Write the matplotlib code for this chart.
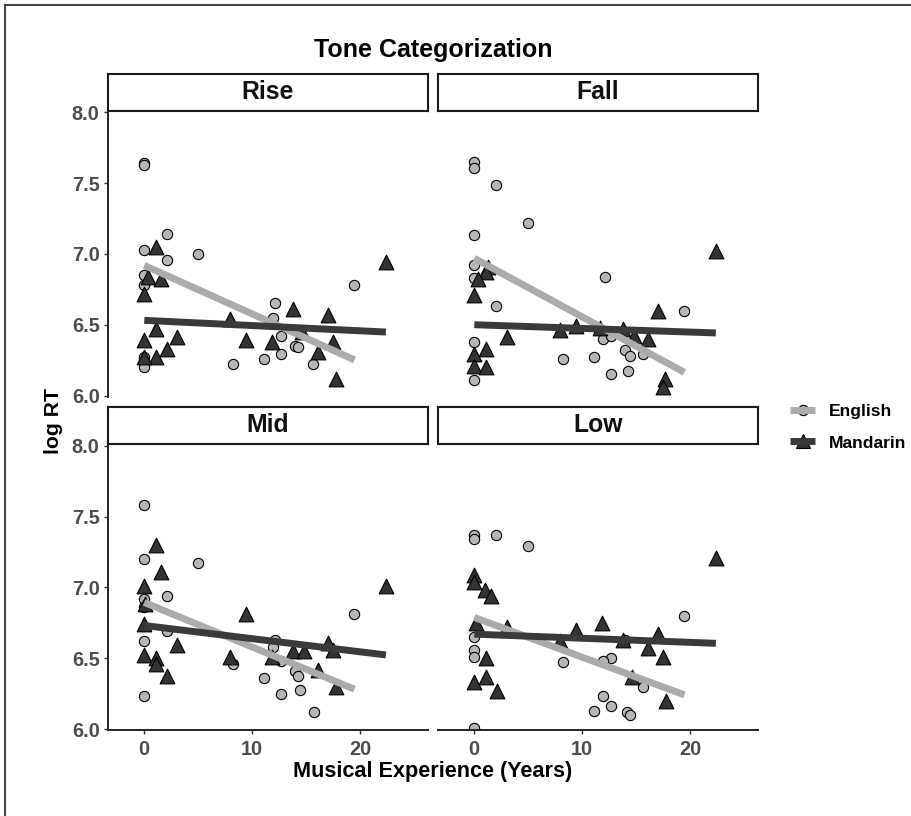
import numpy as np
import matplotlib
matplotlib.use("Agg")
import matplotlib.pyplot as plt
from matplotlib.lines import Line2D
from matplotlib.legend_handler import HandlerTuple

plt.rcParams['font.family'] = ['Liberation Sans', 'DejaVu Sans']

# ---------------- data ----------------
panels = ["Rise", "Fall", "Mid", "Low"]
groups = ["English", "Mandarin"]

rise_eng_x = [0, 0, 2.07, 0, 2.07, 5.0, 0, 0, 12.1, 11.96, 12.7, 13.96, 14.27, 12.7, 11.12, 8.25, 15.66, 19.46, 0, 0]
rise_eng_y = [7.645, 7.626, 7.14, 7.03, 6.96, 7.0, 6.85, 6.78, 6.65, 6.55, 6.42, 6.35, 6.34, 6.29, 6.26, 6.22, 6.22, 6.78, 6.27, 6.20]
rise_man_x = [1.05, 0.31, 1.54, 0, 1.05, 0, 3.0, 2.07, 1.05, 0, 7.94, 9.39, 11.86, 13.75, 14.6, 17.05, 17.5, 16.1, 17.76, 22.37]
rise_man_y = [7.05, 6.84, 6.82, 6.72, 6.47, 6.39, 6.41, 6.33, 6.27, 6.27, 6.54, 6.39, 6.38, 6.61, 6.45, 6.57, 6.38, 6.31, 6.12, 6.94]

fall_eng_x = [0, 0, 2.0, 5.0, 0, 0, 0, 12.1, 2.0, 19.46, 0, 11.96, 12.7, 13.96, 14.4, 15.66, 8.25, 11.12, 12.7, 14.2, 0]
fall_eng_y = [7.65, 7.61, 7.49, 7.22, 7.135, 6.92, 6.83, 6.84, 6.63, 6.60, 6.38, 6.40, 6.42, 6.32, 6.28, 6.29, 6.26, 6.27, 6.15, 6.17, 6.11]
fall_man_x = [1.24, 1.05, 0.31, 0, 3.0, 1.05, 0, 0, 1.05, 7.94, 9.39, 11.65, 13.75, 14.8, 16.1, 17.05, 17.67, 17.45, 22.37]
fall_man_y = [6.91, 6.87, 6.82, 6.71, 6.41, 6.33, 6.29, 6.21, 6.20, 6.46, 6.49, 6.48, 6.47, 6.42, 6.40, 6.595, 6.12, 6.06, 7.02]

mid_eng_x = [0, 0, 5.0, 2.07, 0, 0, 2.07, 0, 19.46, 12.1, 11.96, 12.7, 8.25, 13.96, 14.27, 11.12, 14.4, 12.7, 15.75, 0]
mid_eng_y = [7.58, 7.20, 7.17, 6.94, 6.92, 6.865, 6.69, 6.62, 6.81, 6.63, 6.58, 6.48, 6.46, 6.41, 6.375, 6.36, 6.275, 6.25, 6.12, 6.235]
mid_man_x = [1.05, 1.54, 0, 0.1, 0, 9.39, 3.0, 0, 1.05, 1.05, 2.07, 7.94, 11.86, 13.75, 14.8, 17.05, 17.5, 16.1, 17.76, 22.37]
mid_man_y = [7.30, 7.11, 7.01, 6.88, 6.74, 6.81, 6.59, 6.52, 6.50, 6.46, 6.375, 6.51, 6.51, 6.55, 6.55, 6.61, 6.56, 6.42, 6.30, 7.01]

low_eng_x = [0, 0, 2.0, 5.0, 0, 0, 0, 19.46, 8.25, 12.7, 11.96, 13.96, 15.66, 11.9, 12.67, 11.12, 14.1, 14.4, 0]
low_eng_y = [7.37, 7.34, 7.37, 7.295, 6.65, 6.555, 6.51, 6.795, 6.47, 6.505, 6.48, 6.63, 6.295, 6.23, 6.165, 6.13, 6.12, 6.10, 6.01]
low_man_x = [0, 0, 1.0, 1.54, 0.2, 3.0, 9.39, 11.86, 13.75, 17.05, 7.94, 16.1, 17.45, 1.05, 1.05, 0, 2.07, 14.6, 17.76, 22.37]
low_man_y = [7.09, 7.04, 6.98, 6.94, 6.75, 6.72, 6.70, 6.75, 6.63, 6.67, 6.62, 6.57, 6.51, 6.50, 6.365, 6.335, 6.27, 6.365, 6.20, 7.21]

# linear fit lines (intercept at 0 years, slope per year)
eng_intercepts = [6.919, 6.969, 6.894, 6.788]
eng_slopes = [-0.0343, -0.0414, -0.0315, -0.0281]
man_intercepts = [6.531, 6.500, 6.731, 6.670]
man_slopes = [-0.0037, -0.0026, -0.0093, -0.0029]

x_ticks = [0, 10, 20]
y_ticks = [6.0, 6.5, 7.0, 7.5, 8.0]

panel_data = [
    (rise_eng_x, rise_eng_y, rise_man_x, rise_man_y),
    (fall_eng_x, fall_eng_y, fall_man_x, fall_man_y),
    (mid_eng_x, mid_eng_y, mid_man_x, mid_man_y),
    (low_eng_x, low_eng_y, low_man_x, low_man_y),
]

# ---------------- style ----------------
W, H, DPI = 912, 816, 100
eng_fill, eng_line = "#b6b6b6", "#ababab"
man_fill, man_line = "#333333", "#3a3a3a"
tick_col = "#4d4d4d"
circ_ms = 7.4
tri_ms = 10.6
line_w = 5.0

fig = plt.figure(figsize=(W / DPI, H / DPI), dpi=DPI)
fig.patch.set_facecolor("white")

def rect(px_left, px_top, px_w, px_h):
    return [px_left / W, 1 - (px_top + px_h) / H, px_w / W, px_h / H]

panel_left = [108, 438, 108, 438]
panel_top = [110.5, 110.5, 444, 444]
panel_w = 320
panel_h = 286
strip_h = 37

for i, name in enumerate(panels):
    ex, ey, mx, my = panel_data[i]
    ax = fig.add_axes(rect(panel_left[i], panel_top[i], panel_w, panel_h))
    ax.set_xlim(-3.36, 26.27)
    ax.set_ylim(5.993, 8.013)
    ax.set_facecolor("white")
    for s in ax.spines.values():
        s.set_visible(False)
    left_col = i in (0, 2)
    bottom_row = i in (2, 3)

    ax.scatter(ex, ey, s=circ_ms ** 2, marker="o", facecolor=eng_fill,
               edgecolor="black", linewidths=0.8, zorder=2)
    ax.scatter(mx, my, s=tri_ms ** 2, marker="^", facecolor=man_fill,
               edgecolor="black", linewidths=0.8, zorder=2)

    exr = np.array([min(ex), max(ex)])
    mxr = np.array([min(mx), max(mx)])
    ax.plot(exr, eng_intercepts[i] + eng_slopes[i] * exr, color=eng_line,
            lw=line_w, solid_capstyle="butt", zorder=3)
    ax.plot(mxr, man_intercepts[i] + man_slopes[i] * mxr, color=man_line,
            lw=line_w, solid_capstyle="butt", zorder=3)

    ax.set_xticks(x_ticks)
    ax.set_yticks(y_ticks)
    ax.set_yticklabels([f"{v:.1f}" for v in y_ticks])
    ax.tick_params(axis="both", length=3, width=1.0, color="#333333",
                   labelsize=14.3, labelcolor=tick_col)
    ax.tick_params(axis="x", pad=4)
    ax.tick_params(axis="y", pad=3)
    for lab in ax.get_xticklabels() + ax.get_yticklabels():
        lab.set_fontweight("bold")
    if left_col:
        ax.spines["left"].set_visible(True)
        ax.spines["left"].set_linewidth(1.4)
        ax.spines["left"].set_color("#222222")
    else:
        ax.tick_params(axis="y", left=False, labelleft=False)
    if bottom_row:
        ax.spines["bottom"].set_visible(True)
        ax.spines["bottom"].set_linewidth(1.4)
        ax.spines["bottom"].set_color("#222222")
    else:
        ax.tick_params(axis="x", bottom=False, labelbottom=False)

    # facet strip
    sax = fig.add_axes(rect(panel_left[i], panel_top[i] - strip_h, panel_w, strip_h))
    sax.set_xticks([])
    sax.set_yticks([])
    sax.set_facecolor("white")
    for s in sax.spines.values():
        s.set_linewidth(1.5)
        s.set_color("#1a1a1a")
    sax.text(0.5, 0.5, name, transform=sax.transAxes, ha="center", va="center",
             fontsize=17.8, fontweight="bold", color="#111111")

# titles
fig.text(433 / W, 1 - 50 / H, "Tone Categorization", ha="center", va="center",
         fontsize=18, fontweight="bold", color="black")
fig.text(433 / W, 1 - 772 / H, "Musical Experience (Years)", ha="center", va="center",
         fontsize=15.6, fontweight="bold", color="black")
fig.text(54 / W, 1 - 421 / H, "log RT", ha="center", va="center", rotation=90,
         fontsize=15.2, fontweight="bold", color="black")

# legend
eng_pt = Line2D([], [], ls="none", marker="o", ms=circ_ms, mfc=eng_fill, mec="black", mew=0.8)
eng_ln = Line2D([], [], color=eng_line, lw=line_w, solid_capstyle="butt")
man_pt = Line2D([], [], ls="none", marker="^", ms=tri_ms, mfc=man_fill, mec="black", mew=0.8)
man_ln = Line2D([], [], color=man_line, lw=line_w, solid_capstyle="butt")
leg = fig.legend(handles=[(eng_pt, eng_ln), (man_pt, man_ln)], labels=groups,
                 handler_map={tuple: HandlerTuple(ndivide=1)},
                 loc="center left", bbox_to_anchor=(790 / W, 1 - 427 / H),
                 frameon=False, borderpad=0, borderaxespad=0,
                 handlelength=1.45, handletextpad=0.8, labelspacing=0.95,
                 prop={"size": 12.6, "weight": "bold"})

# outer frame (left and top edges visible in the reference)
fig.add_artist(Line2D([5.5 / W, 5.5 / W], [0, 1 - 5 / H], color="#444444", lw=1.5,
                      transform=fig.transFigure))
fig.add_artist(Line2D([5.5 / W, 1], [1 - 5 / H, 1 - 5 / H], color="#444444", lw=1.5,
                      transform=fig.transFigure))

fig.savefig("out.png", dpi=DPI, facecolor="white")
